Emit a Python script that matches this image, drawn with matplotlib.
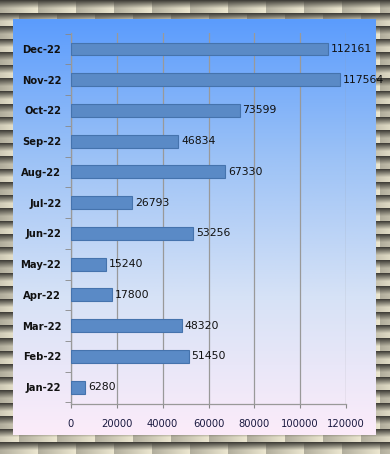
import numpy as np
import matplotlib
matplotlib.use('Agg')
import matplotlib.pyplot as plt
from matplotlib.colors import LinearSegmentedColormap

months = ['Jan-22', 'Feb-22', 'Mar-22', 'Apr-22', 'May-22', 'Jun-22',
          'Jul-22', 'Aug-22', 'Sep-22', 'Oct-22', 'Nov-22', 'Dec-22']
values = [6280, 51450, 48320, 17800, 15240, 53256,
          26793, 67330, 46834, 73599, 117564, 112161]
x_ticks = [0, 20000, 40000, 60000, 80000, 100000, 120000]

W, H = 390, 454
fig = plt.figure(figsize=(W / 100, H / 100), dpi=100)

# checkered beige frame
bg = fig.add_axes([0, 0, 1, 1])
yy, xx = np.mgrid[0:H, 0:W]
tw, th = 38, 13
row = yy // th
fx = ((xx + (row % 2) * 19) % tw) / tw
fy = (yy % th) / th
shade = 0.28 + 0.72 * np.clip(fy * 1.7, 0, 1) * (0.65 + 0.35 * fx)
base = np.array([0.93, 0.91, 0.82])
img = np.clip(shade[..., None] * base, 0, 1)
bg.imshow(img, extent=[0, W, H, 0], aspect='auto')
bg.set_xlim(0, W)
bg.set_ylim(H, 0)
bg.axis('off')

# gradient panel
panel = fig.add_axes([13 / W, 1 - 435 / H, 363 / W, 416 / H])
cmap = LinearSegmentedColormap.from_list(
    'pan', ['#5b9cfd', '#9cc2f6', '#d6e2f6', '#fcecfa'])
panel.imshow(np.linspace(0, 1, 256)[:, None], cmap=cmap, aspect='auto',
             extent=[0, 1, 0, 1])
panel.axis('off')

ax = fig.add_axes([71 / W, 1 - 404 / H, 275 / W, 371 / H])
ax.patch.set_alpha(0)
ypos = np.arange(len(months))
ax.barh(ypos, values, height=0.42, color='#5a8ac6', edgecolor='#4573ad',
        linewidth=0.8, zorder=3)
for y, v in zip(ypos, values):
    ax.annotate(str(v), (v, y), xytext=(2, 0), textcoords='offset points',
                va='center', ha='left', fontsize=7.8, color='#111111',
                annotation_clip=False, zorder=4)

ax.set_xlim(0, 120000)
ax.set_ylim(-0.55, 11.52)
ax.set_xticks(x_ticks)
ax.set_xticklabels([str(t) for t in x_ticks], fontsize=7.2, color='#1a1a40')
ax.set_yticks(ypos)
ax.set_yticklabels(months, fontsize=7.2, fontweight='bold', color='#111111')
ax.set_yticks(np.arange(-0.5, 11.6, 1), minor=True)
ax.tick_params(axis='y', which='major', length=0, pad=7)
ax.tick_params(axis='y', which='minor', length=4, color='#888888', direction='out')
ax.tick_params(axis='x', length=3, color='#888888', pad=8)
ax.grid(axis='x', color='#999999', linewidth=0.9, zorder=1)
for s in ['top', 'right']:
    ax.spines[s].set_visible(False)
for s in ['left', 'bottom']:
    ax.spines[s].set_color('#999999')
    ax.spines[s].set_linewidth(0.9)

fig.savefig('out.png', dpi=100)
